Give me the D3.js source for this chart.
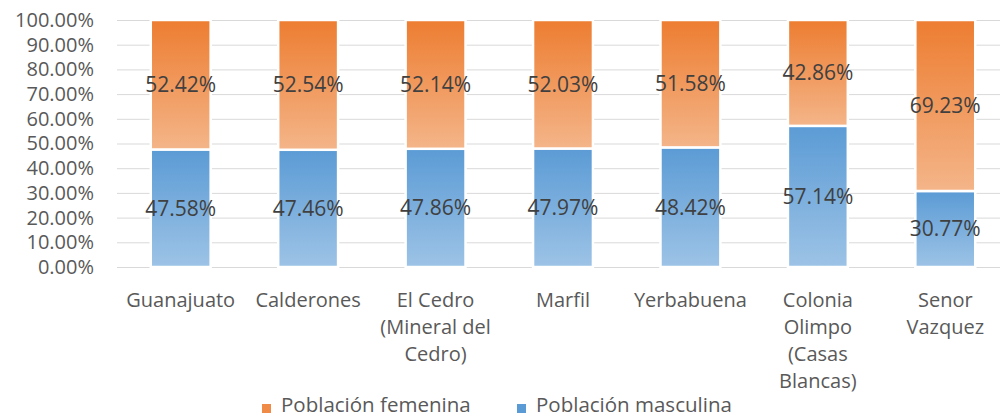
<!DOCTYPE html>
<html>
<head>
<meta charset="utf-8">
<script src="https://cdn.jsdelivr.net/npm/d3@7"></script>
<style>
  body { margin: 0; background: #fff; }
  svg { display: block; font-family: "Open Sans", Lato, sans-serif; }
</style>
</head>
<body>
<svg width="1000" height="418"></svg>
<script>
// Data
const categories = ["Guanajuato", "Calderones", "El Cedro (Mineral del Cedro)", "Marfil",
                    "Yerbabuena", "Colonia Olimpo (Casas Blancas)", "Senor Vazquez"];
const masculina = [47.58, 47.46, 47.86, 47.97, 48.42, 57.14, 30.77];
const femenina  = [52.42, 52.54, 52.14, 52.03, 51.58, 42.86, 69.23];
const yTicks = [0, 10, 20, 30, 40, 50, 60, 70, 80, 90, 100];
const seriesNames = ["Población femenina", "Población masculina"];

const svg = d3.select("svg");
const margin = { top: 20, right: -9, bottom: 151, left: 117 };
const width = 1000, height = 418;

// Gradients
const defs = svg.append("defs");
function grad(id, top, bottom) {
  const g = defs.append("linearGradient").attr("id", id)
    .attr("x1", 0).attr("y1", 0).attr("x2", 0).attr("y2", 1);
  g.append("stop").attr("offset", "0%").attr("stop-color", top);
  g.append("stop").attr("offset", "100%").attr("stop-color", bottom);
}
grad("gOrange", "#ed7d31", "#f4b589");
grad("gBlue", "#5b9bd5", "#9dc3e6");

// Scales
const x = d3.scaleBand()
  .domain(categories)
  .range([margin.left, width - margin.right])
  .paddingInner(0.53)
  .paddingOuter(0.265);

const y = d3.scaleLinear()
  .domain([0, 100])
  .range([height - margin.bottom, margin.top]);

// Gridlines
svg.append("g")
  .selectAll("line")
  .data(yTicks)
  .join("line")
  .attr("x1", margin.left)
  .attr("x2", width - margin.right)
  .attr("y1", d => y(d) + 0.5)
  .attr("y2", d => y(d) + 0.5)
  .attr("stroke", "#d9d9d9")
  .attr("stroke-width", 1);

// Y axis
const yAxis = d3.axisLeft(y)
  .tickValues(yTicks)
  .tickSize(0)
  .tickPadding(0)
  .tickFormat(d => d.toFixed(2) + "%");

svg.append("g")
  .attr("transform", `translate(${margin.left - 23},0)`)
  .call(yAxis)
  .call(g => g.select(".domain").remove())
  .call(g => g.selectAll("text")
    .attr("fill", "#595959")
    .style("font-size", "20px")
    .style("font-family", "'Open Sans', Lato, sans-serif"));

// Stack
const rows = categories.map((c, i) => ({ cat: c, masc: masculina[i], fem: femenina[i] }));
const stack = d3.stack().keys(["masc", "fem"])(rows);
const fills = { masc: "url(#gBlue)", fem: "url(#gOrange)" };

const layer = svg.append("g")
  .selectAll("g")
  .data(stack)
  .join("g")
  .attr("fill", d => fills[d.key]);

layer.selectAll("rect")
  .data(d => d)
  .join("rect")
  .attr("x", d => x(d.data.cat))
  .attr("width", x.bandwidth())
  .attr("y", d => y(d[1]))
  .attr("height", d => y(d[0]) - y(d[1]))
  .attr("stroke", "#fff")
  .attr("stroke-width", 2.5);

// Data labels
layer.selectAll("text")
  .data(d => d.map(v => ({ v, key: d.key })))
  .join("text")
  .attr("x", d => x(d.v.data.cat) + x.bandwidth() / 2)
  .attr("y", d => y((d.v[0] + d.v[1]) / 2))
  .attr("dy", "0.35em")
  .attr("text-anchor", "middle")
  .attr("fill", "#404040")
  .style("font-size", "21px")
  .text(d => d.v.data[d.key].toFixed(2) + "%");

// Category labels (wrapped)
const xAxis = svg.append("g");
const maxW = 118;
categories.forEach(c => {
  const t = xAxis.append("text")
    .attr("x", x(c) + x.bandwidth() / 2)
    .attr("y", 307)
    .attr("text-anchor", "middle")
    .attr("fill", "#595959")
    .style("font-size", "20px");
  const words = c.split(" ");
  let line = [], lines = [];
  const probe = t.append("tspan");
  words.forEach(w => {
    const test = line.concat(w).join(" ");
    probe.text(test);
    if (probe.node().getComputedTextLength() > maxW && line.length) {
      lines.push(line.join(" "));
      line = [w];
    } else {
      line.push(w);
    }
  });
  lines.push(line.join(" "));
  probe.remove();
  lines.forEach((l, i) => {
    t.append("tspan")
      .attr("x", x(c) + x.bandwidth() / 2)
      .attr("y", 307 + i * 27)
      .text(l);
  });
});

// Legend
const legend = svg.append("g");
const legendItems = [
  { name: seriesNames[0], color: "#ef8b47", x: 262 },
  { name: seriesNames[1], color: "#5b9bd5", x: 517 }
];
legendItems.forEach(d => {
  legend.append("rect")
    .attr("x", d.x).attr("y", 404)
    .attr("width", 9).attr("height", 9)
    .attr("fill", d.color);
  legend.append("text")
    .attr("x", d.x + 19).attr("y", 412)
    .attr("fill", "#595959")
    .style("font-size", "20.5px")
    .text(d.name);
});
</script>
</body>
</html>
